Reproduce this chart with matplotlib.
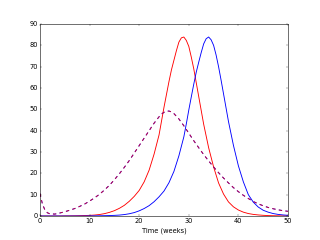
import matplotlib
matplotlib.use("Agg")
import matplotlib.pyplot as plt

# Red solid curve: weekly, half-weekly around the peak
red_weeks = (list(range(0, 24))
             + [24, 24.5, 25, 25.5, 26, 26.5, 27, 27.5, 28, 28.5, 29,
                29.5, 30, 30.5, 31, 31.5, 32, 32.5, 33]
             + list(range(34, 51)))
red_solid = [0.0, 0.0, 0.0, 0.0, 0.0, 0.05, 0.07, 0.1, 0.15, 0.22,
             0.3, 0.45, 0.7, 1.1, 1.7, 2.5, 3.6, 5.0, 6.9, 9.2,
             12.0, 16.0, 21.5, 29.0,
             38.0, 44.5, 51.0, 57.0, 63.0, 68.5, 73.0, 77.5, 81.5, 83.5, 83.9,
             82.3, 79.5, 74.5, 69.0, 62.5, 56.0, 49.5, 43.0,
             32.0, 23.0, 15.5, 10.3, 6.6, 4.3, 2.8, 1.8, 1.15, 0.75,
             0.5, 0.32, 0.2, 0.13, 0.09, 0.06, 0.04]

# Blue solid curve: same shape, about five weeks later
blue_weeks = (list(range(0, 29))
              + [29, 29.5, 30, 30.5, 31, 31.5, 32, 32.5, 33, 33.5, 34,
                 34.5, 35, 35.5, 36, 36.5, 37, 37.5, 38]
              + list(range(39, 51)))
blue_solid = [0.0, 0.0, 0.0, 0.0, 0.0, 0.0, 0.0, 0.0, 0.0, 0.0,
              0.05, 0.07, 0.1, 0.15, 0.21, 0.3, 0.43, 0.67, 1.05, 1.6,
              2.42, 3.5, 4.86, 6.7, 9.0, 11.7, 15.6, 20.9, 28.2,
              37.1, 43.2, 49.7, 55.8, 61.8, 67.4, 72.1, 76.6, 80.7, 83.1, 83.9,
              82.6, 80.0, 75.5, 70.0, 63.8, 57.3, 50.8, 44.3,
              33.1, 23.5, 16.0, 10.0, 6.5, 4.2, 2.7, 1.8, 1.15, 0.75, 0.5, 0.33]

# Dashed curve (drawn twice, blue and red)
dash_weeks = ([0, 0.5, 1, 1.5, 2] + list(range(3, 24))
              + [24, 24.5, 25, 25.5, 26, 26.5, 27] + list(range(28, 51)))
dashed = [10.5, 5.5, 2.8, 1.5, 1.0,
          0.9, 1.4, 2.0, 2.7, 3.5, 4.5, 5.6, 7.0, 8.5, 10.2,
          12.2, 14.4, 17.0, 19.8, 22.8, 26.0, 29.5, 33.0, 36.5, 40.0,
          43.5,
          46.5, 47.8, 48.6, 49.1, 49.2, 48.8, 48.0,
          45.5, 42.3, 38.8, 35.3, 32.0,
          28.8, 25.8, 23.0, 20.3, 17.8, 15.5, 13.3, 11.4, 9.7, 8.2,
          6.8, 5.7, 4.8, 4.0, 3.4, 2.9, 2.5, 2.2]

plt.style.use("classic")
fig = plt.figure(figsize=(8, 6), dpi=40, facecolor="white")
ax = fig.add_subplot(111)

ax.plot(red_weeks, red_solid, "r-", lw=1.6)
ax.plot(blue_weeks, blue_solid, "b-", lw=1.6)
ax.plot(dash_weeks, dashed, "b--", lw=1.8)
ax.plot(dash_weeks, dashed, "r--", lw=1.6, alpha=0.8)

ax.set_xlim(0, 50)
ax.set_ylim(0, 90)
ax.set_xlabel("Time (weeks)")

fig.savefig("out.png", dpi=40, facecolor="white")
